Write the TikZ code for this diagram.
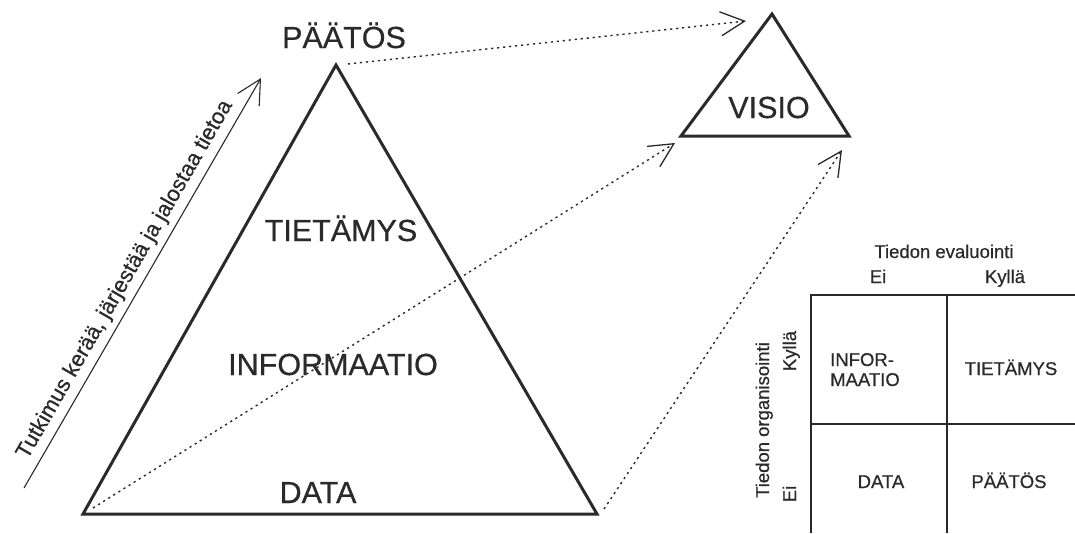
\documentclass[tikz,border=0pt]{standalone}
\usepackage{fontspec}
\setmainfont{Liberation Sans}[FakeBold=0.6]
\usetikzlibrary{arrows.meta}
\definecolor{ink}{HTML}{2A2A2A}
\begin{document}
\begin{tikzpicture}[x=1pt,y=-1pt,
  bigtxt/.style={font=\fontsize{30.5}{36}\selectfont, text=ink, inner sep=0pt, anchor=base},
  midtxt/.style={font=\fontsize{22}{26}\selectfont, text=ink, inner sep=0pt, anchor=base},
  smtxt/.style={font=\fontsize{18.5}{20}\selectfont, text=ink, inner sep=0pt, anchor=base},
  celltxt/.style={font=\fontsize{18.5}{20}\selectfont, text=ink, inner sep=0pt, anchor=base},
  tri/.style={draw=ink, line width=3pt, line join=miter},
  dotarrow/.style={draw=ink, line width=1.4pt, dash pattern=on 2.2pt off 3.8pt,
    -{Straight Barb[length=24pt,width=24pt,line width=1.3pt]}},
  solarrow/.style={draw=ink, line width=1.1pt,
    -{Straight Barb[length=24pt,width=25pt,line width=1.1pt]}},
  grid/.style={draw=ink, line width=1.3pt}
]
\useasboundingbox (0,0) rectangle (1075,533);

% big triangle
\coordinate (apex) at (336,65);
\coordinate (bl) at (83,514);
\coordinate (br) at (597,514);
\draw[tri] (apex) -- (bl) -- (br) -- cycle;

\node[bigtxt] (paatos) at (344,48) {PÄÄTÖS};
\node[bigtxt] (tietamys) at (341,241) {TIETÄMYS};
\node[bigtxt] (informaatio) at (333,375) {INFORMAATIO};
\node[bigtxt] (data) at (318,503) {DATA};

% vision triangle
\coordinate (vtop) at (772,14);
\coordinate (vl) at (681,136);
\coordinate (vr) at (849,136);
\draw[tri] (vtop) -- (vl) -- (vr) -- cycle;
\node[bigtxt] (visio) at (769,118) {VISIO};

% dotted arrows
\coordinate (s1) at (348,64);
\coordinate (t1) at (746,21);
\coordinate (s2) at (93,508);
\coordinate (t2) at (675,143);
\coordinate (s3) at (604,509);
\coordinate (t3) at (842,150);
\draw[dotarrow] (s1) -- (t1);
\draw[dotarrow] (s2) -- (t2);
\draw[dotarrow] (s3) -- (t3);

% research arrow
\coordinate (r0) at (24,488);
\coordinate (r1) at (261,78);
\draw[solarrow] (r0) -- (r1);
\node[midtxt, rotate=60] (tutkimus) at (130,282.5) {Tutkimus kerää, järjestää ja jalostaa tietoa};

% table
\coordinate (g1) at (811,295);
\coordinate (g2) at (1075,295);
\coordinate (g3) at (811,533);
\coordinate (g4) at (947,295);
\coordinate (g5) at (947,533);
\coordinate (g6) at (811,424);
\coordinate (g7) at (1075,424);
\draw[grid] (g2) -- (g1) -- (g3);
\draw[grid] (g4) -- (g5);
\draw[grid] (g6) -- (g7);

\node[smtxt] (evaluointi) at (944,258) {Tiedon evaluointi};
\node[smtxt] (colei) at (878,283) {Ei};
\node[smtxt] (colkylla) at (1005,283) {Kyllä};
\node[smtxt, rotate=90] (organisointi) at (769,420) {Tiedon organisointi};
\node[smtxt, rotate=90] (rowkylla) at (796,351) {Kyllä};
\node[smtxt, rotate=90] (rowei) at (796,494) {Ei};

\node[celltxt, anchor=base west] (c1a) at (830,366) {INFOR-};
\node[celltxt, anchor=base west] (c1b) at (830,386) {MAATIO};
\node[celltxt] (c2) at (1011,375) {TIETÄMYS};
\node[celltxt] (c3) at (881,488) {DATA};
\node[celltxt] (c4) at (1009,488) {PÄÄTÖS};
\end{tikzpicture}
\end{document}
